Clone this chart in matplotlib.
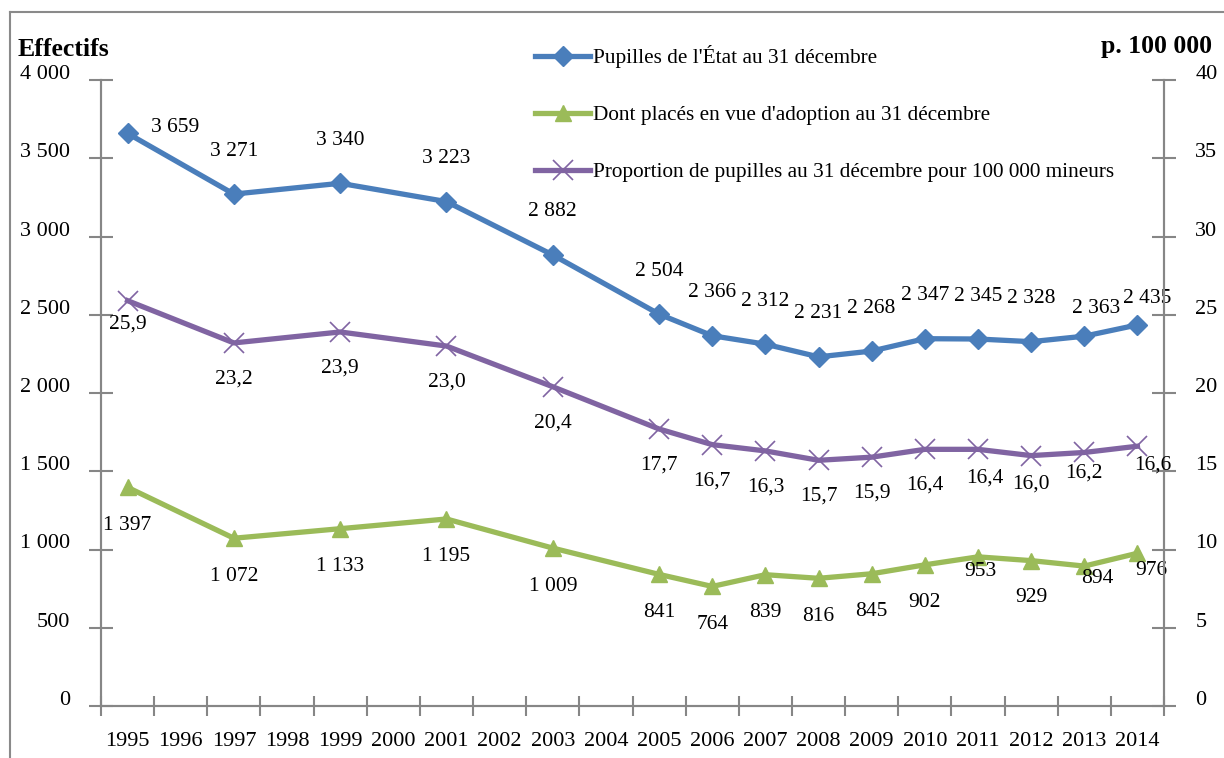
import matplotlib
matplotlib.use("Agg")
import matplotlib.pyplot as plt
import matplotlib.transforms as mtransforms
from matplotlib.lines import Line2D

plt.rcParams["font.family"] = ["Liberation Serif", "DejaVu Serif"]

# data
years = [1995, 1997, 1999, 2001, 2003, 2005, 2006, 2007, 2008, 2009, 2010, 2011, 2012, 2013, 2014]
pupilles = [3659, 3271, 3340, 3223, 2882, 2504, 2366, 2312, 2231, 2268, 2347, 2345, 2328, 2363, 2435]
adoption = [1397, 1072, 1133, 1195, 1009, 841, 764, 839, 816, 845, 902, 953, 929, 894, 976]
proportion = [25.9, 23.2, 23.9, 23.0, 20.4, 17.7, 16.7, 16.3, 15.7, 15.9, 16.4, 16.4, 16.0, 16.2, 16.6]
year_labels = list(range(1995, 2015))

names = ["Pupilles de l'État au 31 décembre",
         "Dont placés en vue d'adoption au 31 décembre",
         "Proportion de pupilles au 31 décembre pour 100 000 mineurs"]

BLUE = "#4a7ebb"
GREEN = "#9bbb59"
PURPLE = "#8064a2"
GRAY = "#868686"

# label offsets in pixels (dx, dy down)
off_blue = [(48, -6)] + [(0, -43)] * 12 + [(12, -28), (10, -26)]
off_green = [(0, 38)] * 11 + [(2, 15), (0, 37), (13, 12), (14, 17)]
off_purple = [(0, 23)] + [(0, 36)] * 10 + [(7, 29), (0, 28), (0, 21), (15, 19)]


def fr_int(v):
    return f"{v:,}".replace(",", " ")


def fr_dec(v):
    return f"{v:.1f}".replace(".", ",")


fig = plt.figure(figsize=(12.24, 7.58), dpi=100)
ax = fig.add_axes([101 / 1224, 52 / 758, 1063 / 1224, 626 / 758])
ax2 = ax.twinx()

lw = 3.8
l1, = ax.plot(years, pupilles, color=BLUE, lw=lw, marker="D", ms=10, zorder=3)
l2, = ax.plot(years, adoption, color=GREEN, lw=lw, marker="^", ms=12, zorder=3)
l3, = ax2.plot(years, proportion, color=PURPLE, lw=lw, marker="x", ms=14, mew=1.2, zorder=3)

fs = 15.5
for x, v, (dx, dy) in zip(years, pupilles, off_blue):
    ax.annotate(fr_int(v), (x, v), xytext=(dx, -dy), textcoords="offset pixels",
                ha="center", va="center", fontsize=fs)
for x, v, (dx, dy) in zip(years, adoption, off_green):
    ax.annotate(fr_int(v), (x, v), xytext=(dx, -dy), textcoords="offset pixels",
                ha="center", va="center", fontsize=fs)
for x, v, (dx, dy) in zip(years, proportion, off_purple):
    ax2.annotate(fr_dec(v), (x, v), xytext=(dx, -dy), textcoords="offset pixels",
                 ha="center", va="center", fontsize=fs)

ax.set_xlim(year_labels[0] - 0.5, year_labels[-1] + 0.5)
ax.set_ylim(0, 4000)
ax2.set_ylim(0, 40)

ax.set_xticks([y - 0.5 for y in year_labels] + [year_labels[-1] + 0.5])
ax.set_xticklabels([])
ax.set_xticks(year_labels, minor=True)
ax.set_xticklabels([str(y) for y in year_labels], minor=True, fontsize=16)
ax.tick_params(axis="x", which="major", direction="inout", length=15, width=1.5, color=GRAY)
ax.tick_params(axis="x", which="minor", length=0, pad=19)

left_ticks = list(range(0, 4001, 500))
ax.set_yticks(left_ticks)
ax.set_yticklabels([fr_int(t) for t in left_ticks], fontsize=16)
ax.tick_params(axis="y", direction="inout", length=17, width=1.5, color=GRAY, pad=14)
right_ticks = list(range(0, 41, 5))
ax2.set_yticks(right_ticks)
ax2.set_yticklabels([str(t) for t in right_ticks], fontsize=16)
ax2.tick_params(axis="y", direction="inout", length=17, width=1.5, color=GRAY, pad=14)

shift = mtransforms.ScaledTranslation(0, 8 / 100, fig.dpi_scale_trans)
for lab in ax.get_yticklabels() + ax2.get_yticklabels():
    lab.set_transform(lab.get_transform() + shift)

for a in (ax, ax2):
    a.spines["top"].set_visible(False)
    for s in ("left", "right", "bottom"):
        a.spines[s].set_color(GRAY)
        a.spines[s].set_linewidth(1.5)
    a.patch.set_visible(False)

fig.text(18 / 1224, 1 - 49 / 758, "Effectifs", fontsize=18.5, fontweight="bold", va="center", ha="left")
fig.text(1212 / 1224, 1 - 47 / 758, "p. 100 000", fontsize=18.5, fontweight="bold", va="center", ha="right")

fig.legend([l1, l2, l3], names, loc="upper left", bbox_to_anchor=(535 / 1224, 1 - 45 / 758),
           frameon=False, fontsize=15.3, handlelength=2.6, handletextpad=0.15,
           labelspacing=1.75, borderaxespad=0, borderpad=0)

# outer frame
fig.add_artist(Line2D([10 / 1224, 1], [1 - 12 / 758, 1 - 12 / 758], color="#8a8a8a", lw=1.5))
fig.add_artist(Line2D([10 / 1224, 10 / 1224], [0, 1 - 12 / 758], color="#8a8a8a", lw=1.5))

fig.savefig("out.png", dpi=100)
